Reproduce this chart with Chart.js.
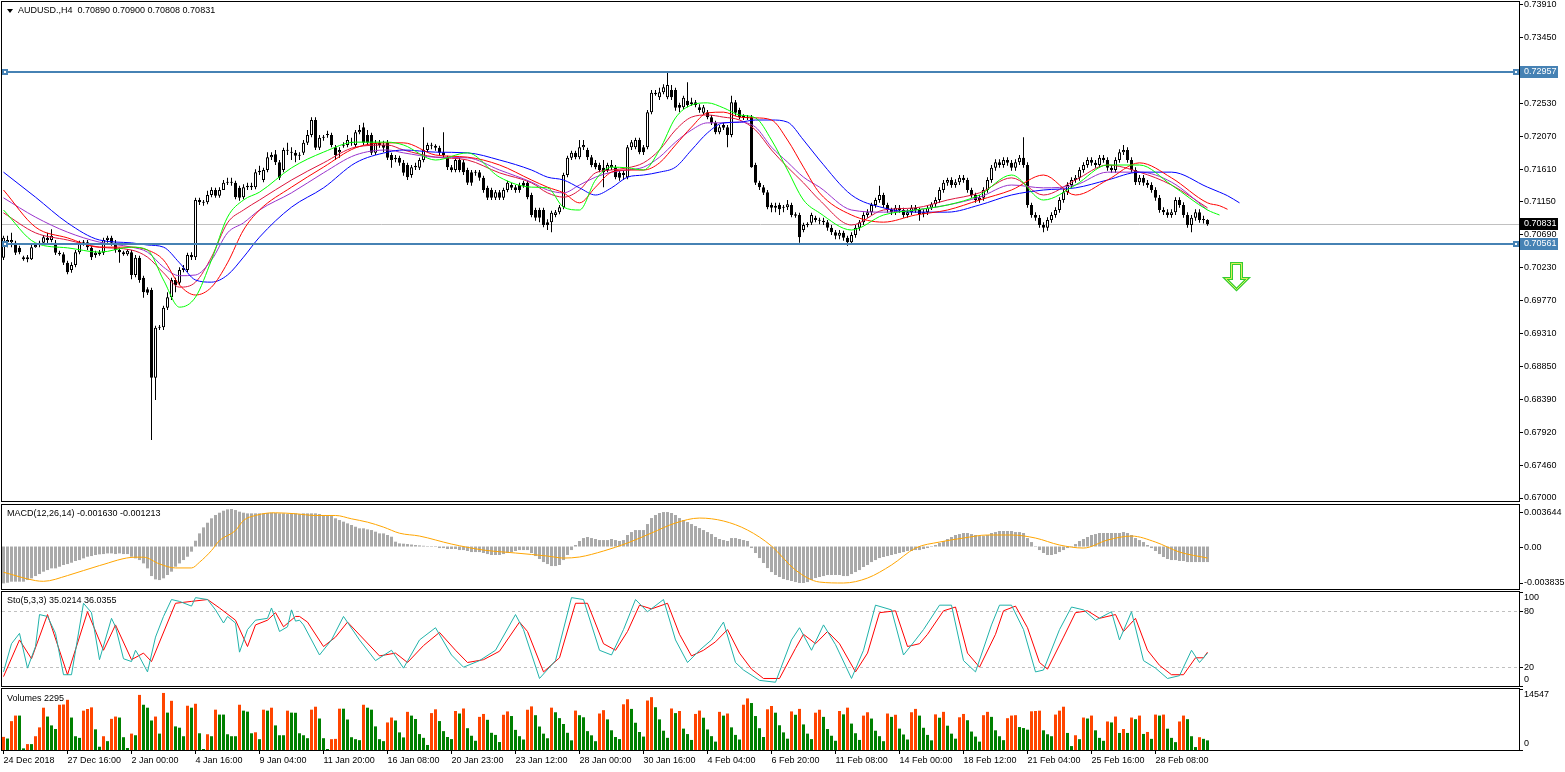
<!DOCTYPE html>
<html>
<head>
<meta charset="utf-8">
<title>AUDUSD., H4</title>
<script src="https://cdn.jsdelivr.net/npm/chart.js@4.4.1/dist/chart.umd.min.js"></script>
<style>
  html, body { margin: 0; padding: 0; background: #fff; }
  body { position: relative; width: 1565px; height: 772px; overflow: hidden; font-family: "Liberation Sans", Arial, sans-serif; }
  canvas { position: absolute; left: 0; }
  .txt { position: absolute; font-size: 9px; line-height: 11px; color: #000; white-space: pre; }
  #tri { position: absolute; left: 7px; top: 9px; width: 0; height: 0; border-left: 3px solid transparent; border-right: 3px solid transparent; border-top: 4px solid #000; }
</style>
</head>
<body>
<canvas id="cMain" width="1565" height="503" style="top:0"></canvas>
<canvas id="cMacd" width="1565" height="88" style="top:503px"></canvas>
<canvas id="cSto" width="1565" height="96" style="top:591px"></canvas>
<canvas id="cVol" width="1565" height="85" style="top:687px"></canvas>
<div id="tri"></div>
<div class="txt" style="left:18px;top:5px">AUDUSD.,H4  0.70890 0.70900 0.70808 0.70831</div>
<div class="txt" style="left:7px;top:508px">MACD(12,26,14) -0.001630 -0.001213</div>
<div class="txt" style="left:7px;top:595px">Sto(5,3,3) 35.0214 36.0355</div>
<div class="txt" style="left:7px;top:693px">Volumes 2295</div>
<script>
// AUDUSD H4 candles, 24 Dec 2018 .. 1 Mar 2019
const open = [0.7036,0.7061,0.7058,0.7057,0.7050,0.7037,0.7034,0.7034,0.7051,0.7054,
0.7057,0.7064,0.7061,0.7057,0.7043,0.7041,0.7029,0.7019,0.7026,0.7044,
0.7057,0.7058,0.7050,0.7040,0.7041,0.7043,0.7061,0.7064,0.7057,0.7047,
0.7044,0.7041,0.7044,0.7012,0.7036,0.7008,0.6992,0.6991,0.6868,0.6938,
0.6939,0.6966,0.6981,0.7005,0.7001,0.7019,0.7019,0.7040,0.7037,0.7117,
0.7114,0.7114,0.7124,0.7131,0.7123,0.7131,0.7141,0.7142,0.7141,0.7134,
0.7121,0.7135,0.7137,0.7135,0.7156,0.7145,0.7159,0.7177,0.7181,0.7170,
0.7159,0.7187,0.7184,0.7183,0.7179,0.7183,0.7197,0.7208,0.7229,0.7190,
0.7204,0.7208,0.7208,0.7191,0.7184,0.7193,0.7194,0.7198,0.7194,0.7212,
0.7219,0.7208,0.7208,0.7183,0.7197,0.7194,0.7197,0.7180,0.7176,0.7176,
0.7169,0.7166,0.7152,0.7163,0.7162,0.7173,0.7187,0.7194,0.7193,0.7190,
0.7184,0.7176,0.7163,0.7159,0.7173,0.7170,0.7159,0.7156,0.7156,0.7156,
0.7148,0.7134,0.7131,0.7120,0.7128,0.7120,0.7131,0.7138,0.7135,0.7138,
0.7141,0.7141,0.7124,0.7103,0.7103,0.7103,0.7086,0.7086,0.7096,0.7100,
0.7107,0.7152,0.7176,0.7183,0.7177,0.7191,0.7187,0.7177,0.7169,0.7166,
0.7162,0.7159,0.7163,0.7163,0.7155,0.7155,0.7149,0.7191,0.7191,0.7201,
0.7191,0.7191,0.7240,0.7267,0.7261,0.7268,0.7261,0.7271,0.7271,0.7250,
0.7247,0.7256,0.7254,0.7254,0.7247,0.7239,0.7240,0.7233,0.7225,0.7212,
0.7222,0.7219,0.7208,0.7254,0.7243,0.7235,0.7233,0.7233,0.7166,0.7141,
0.7135,0.7128,0.7110,0.7109,0.7110,0.7107,0.7107,0.7110,0.7097,0.7096,
0.7075,0.7083,0.7085,0.7092,0.7089,0.7088,0.7086,0.7078,0.7072,0.7067,
0.7071,0.7064,0.7058,0.7068,0.7078,0.7086,0.7096,0.7100,0.7110,0.7117,
0.7124,0.7110,0.7103,0.7100,0.7106,0.7103,0.7096,0.7100,0.7106,0.7103,
0.7097,0.7100,0.7106,0.7111,0.7117,0.7131,0.7141,0.7145,0.7138,0.7142,
0.7148,0.7145,0.7131,0.7124,0.7117,0.7120,0.7131,0.7145,0.7162,0.7170,
0.7166,0.7173,0.7169,0.7162,0.7170,0.7176,0.7166,0.7110,0.7096,0.7092,
0.7082,0.7078,0.7089,0.7096,0.7103,0.7117,0.7128,0.7138,0.7145,0.7148,
0.7159,0.7166,0.7173,0.7169,0.7166,0.7176,0.7173,0.7162,0.7159,0.7173,
0.7184,0.7187,0.7173,0.7159,0.7142,0.7148,0.7141,0.7138,0.7131,0.7120,
0.7103,0.7100,0.7096,0.7100,0.7117,0.7110,0.7096,0.7082,0.7092,0.7100,
0.7089,0.7089];
const high = [0.7067,0.7067,0.7071,0.7060,0.7053,0.7039,0.7040,0.7054,0.7055,0.7060,
0.7068,0.7071,0.7076,0.7061,0.7046,0.7044,0.7032,0.7030,0.7047,0.7060,
0.7061,0.7061,0.7053,0.7046,0.7047,0.7064,0.7067,0.7067,0.7061,0.7050,
0.7046,0.7048,0.7047,0.7040,0.7039,0.7011,0.6995,0.6994,0.6941,0.6942,
0.6969,0.6988,0.7008,0.7008,0.7023,0.7026,0.7043,0.7044,0.7120,0.7120,
0.7117,0.7130,0.7135,0.7134,0.7135,0.7145,0.7148,0.7148,0.7144,0.7137,
0.7139,0.7141,0.7141,0.7160,0.7165,0.7162,0.7184,0.7184,0.7187,0.7173,
0.7190,0.7197,0.7191,0.7187,0.7184,0.7201,0.7215,0.7233,0.7233,0.7208,
0.7208,0.7214,0.7211,0.7194,0.7191,0.7198,0.7208,0.7204,0.7215,0.7222,
0.7225,0.7215,0.7211,0.7201,0.7201,0.7200,0.7201,0.7183,0.7180,0.7179,
0.7173,0.7169,0.7166,0.7169,0.7176,0.7219,0.7197,0.7197,0.7195,0.7193,
0.7212,0.7179,0.7166,0.7176,0.7176,0.7173,0.7162,0.7159,0.7159,0.7159,
0.7151,0.7137,0.7134,0.7131,0.7131,0.7134,0.7144,0.7141,0.7138,0.7141,
0.7144,0.7145,0.7127,0.7106,0.7106,0.7106,0.7090,0.7102,0.7103,0.7110,
0.7155,0.7179,0.7186,0.7186,0.7201,0.7201,0.7190,0.7180,0.7173,0.7169,
0.7173,0.7169,0.7173,0.7166,0.7158,0.7158,0.7194,0.7201,0.7204,0.7204,
0.7194,0.7243,0.7271,0.7271,0.7274,0.7279,0.7295,0.7278,0.7274,0.7253,
0.7263,0.7282,0.7260,0.7257,0.7251,0.7250,0.7243,0.7236,0.7228,0.7222,
0.7225,0.7222,0.7263,0.7257,0.7246,0.7237,0.7236,0.7236,0.7169,0.7144,
0.7138,0.7131,0.7113,0.7113,0.7113,0.7110,0.7117,0.7113,0.7100,0.7099,
0.7085,0.7086,0.7099,0.7095,0.7092,0.7092,0.7089,0.7082,0.7075,0.7075,
0.7074,0.7067,0.7072,0.7082,0.7089,0.7100,0.7104,0.7113,0.7120,0.7137,
0.7127,0.7113,0.7106,0.7110,0.7110,0.7106,0.7104,0.7110,0.7110,0.7106,
0.7104,0.7110,0.7114,0.7121,0.7135,0.7145,0.7148,0.7149,0.7146,0.7152,
0.7152,0.7148,0.7134,0.7127,0.7124,0.7135,0.7149,0.7166,0.7174,0.7174,
0.7177,0.7177,0.7173,0.7174,0.7180,0.7205,0.7170,0.7113,0.7100,0.7096,
0.7086,0.7093,0.7100,0.7107,0.7121,0.7132,0.7142,0.7149,0.7152,0.7163,
0.7170,0.7177,0.7177,0.7173,0.7180,0.7180,0.7177,0.7166,0.7177,0.7188,
0.7194,0.7191,0.7177,0.7163,0.7152,0.7152,0.7145,0.7142,0.7135,0.7124,
0.7107,0.7104,0.7104,0.7121,0.7121,0.7114,0.7100,0.7096,0.7104,0.7104,
0.7095,0.7090];
const low = [0.7033,0.7051,0.7051,0.7040,0.7041,0.7032,0.7030,0.7033,0.7050,0.7051,
0.7055,0.7055,0.7058,0.7040,0.7039,0.7026,0.7013,0.7015,0.7023,0.7041,
0.7053,0.7047,0.7033,0.7036,0.7039,0.7040,0.7057,0.7053,0.7043,0.7029,
0.7039,0.7039,0.7006,0.7009,0.7001,0.6980,0.6984,0.6781,0.6837,0.6935,
0.6935,0.6963,0.6977,0.6988,0.6998,0.7016,0.7016,0.7033,0.7033,0.7110,
0.7109,0.7111,0.7121,0.7120,0.7120,0.7131,0.7138,0.7137,0.7118,0.7116,
0.7118,0.7131,0.7131,0.7132,0.7152,0.7142,0.7156,0.7173,0.7166,0.7145,
0.7156,0.7180,0.7173,0.7170,0.7173,0.7180,0.7194,0.7205,0.7187,0.7187,
0.7200,0.7204,0.7191,0.7173,0.7176,0.7190,0.7191,0.7193,0.7191,0.7209,
0.7194,0.7194,0.7180,0.7180,0.7190,0.7184,0.7173,0.7162,0.7170,0.7165,
0.7151,0.7145,0.7148,0.7159,0.7159,0.7170,0.7184,0.7188,0.7186,0.7180,
0.7176,0.7159,0.7156,0.7156,0.7156,0.7152,0.7138,0.7137,0.7151,0.7144,
0.7127,0.7117,0.7117,0.7117,0.7117,0.7117,0.7128,0.7131,0.7127,0.7127,
0.7134,0.7118,0.7093,0.7088,0.7086,0.7079,0.7075,0.7072,0.7093,0.7097,
0.7104,0.7149,0.7173,0.7174,0.7174,0.7187,0.7173,0.7163,0.7160,0.7156,
0.7135,0.7156,0.7159,0.7146,0.7144,0.7145,0.7146,0.7187,0.7188,0.7181,
0.7180,0.7188,0.7237,0.7263,0.7257,0.7265,0.7258,0.7257,0.7242,0.7240,
0.7244,0.7247,0.7249,0.7247,0.7239,0.7236,0.7230,0.7222,0.7209,0.7209,
0.7215,0.7191,0.7205,0.7235,0.7230,0.7229,0.7229,0.7162,0.7138,0.7131,
0.7124,0.7104,0.7100,0.7100,0.7096,0.7100,0.7103,0.7093,0.7092,0.7057,
0.7072,0.7079,0.7082,0.7086,0.7083,0.7082,0.7074,0.7068,0.7062,0.7062,
0.7060,0.7053,0.7055,0.7064,0.7074,0.7082,0.7092,0.7096,0.7106,0.7113,
0.7106,0.7099,0.7096,0.7096,0.7099,0.7092,0.7092,0.7096,0.7099,0.7088,
0.7093,0.7096,0.7103,0.7107,0.7113,0.7127,0.7137,0.7134,0.7134,0.7138,
0.7141,0.7127,0.7120,0.7113,0.7113,0.7116,0.7127,0.7141,0.7158,0.7162,
0.7162,0.7165,0.7158,0.7158,0.7166,0.7162,0.7106,0.7092,0.7088,0.7078,
0.7072,0.7074,0.7085,0.7092,0.7099,0.7113,0.7124,0.7134,0.7141,0.7144,
0.7155,0.7162,0.7165,0.7162,0.7162,0.7169,0.7158,0.7155,0.7155,0.7169,
0.7180,0.7169,0.7155,0.7138,0.7138,0.7137,0.7134,0.7127,0.7116,0.7099,
0.7096,0.7092,0.7092,0.7096,0.7106,0.7092,0.7078,0.7072,0.7088,0.7085,
0.7084,0.7081];
const close = [0.7064,0.7058,0.7061,0.7043,0.7044,0.7034,0.7037,0.7051,0.7054,0.7057,
0.7065,0.7061,0.7067,0.7043,0.7041,0.7029,0.7016,0.7026,0.7044,0.7057,
0.7058,0.7051,0.7037,0.7043,0.7044,0.7061,0.7064,0.7057,0.7047,0.7044,
0.7041,0.7046,0.7012,0.7036,0.7005,0.6988,0.6987,0.6868,0.6938,0.6939,
0.6966,0.6981,0.7005,0.6998,0.7019,0.7022,0.7040,0.7037,0.7117,0.7114,
0.7113,0.7124,0.7131,0.7123,0.7131,0.7141,0.7142,0.7141,0.7121,0.7120,
0.7135,0.7137,0.7135,0.7156,0.7158,0.7159,0.7177,0.7180,0.7170,0.7148,
0.7187,0.7186,0.7183,0.7179,0.7180,0.7197,0.7208,0.7229,0.7190,0.7204,
0.7205,0.7209,0.7194,0.7180,0.7187,0.7194,0.7201,0.7197,0.7212,0.7215,
0.7197,0.7197,0.7183,0.7197,0.7194,0.7190,0.7176,0.7173,0.7174,0.7169,
0.7155,0.7149,0.7163,0.7165,0.7173,0.7187,0.7194,0.7193,0.7190,0.7183,
0.7180,0.7163,0.7159,0.7173,0.7159,0.7156,0.7141,0.7141,0.7155,0.7148,
0.7131,0.7120,0.7120,0.7128,0.7120,0.7131,0.7141,0.7134,0.7131,0.7131,
0.7137,0.7121,0.7096,0.7092,0.7092,0.7082,0.7082,0.7099,0.7100,0.7107,
0.7152,0.7176,0.7183,0.7177,0.7191,0.7194,0.7177,0.7166,0.7163,0.7159,
0.7156,0.7166,0.7166,0.7149,0.7148,0.7152,0.7191,0.7198,0.7201,0.7184,
0.7184,0.7240,0.7267,0.7265,0.7268,0.7275,0.7278,0.7261,0.7246,0.7246,
0.7260,0.7250,0.7251,0.7250,0.7243,0.7247,0.7233,0.7225,0.7212,0.7219,
0.7218,0.7208,0.7254,0.7239,0.7233,0.7232,0.7232,0.7163,0.7141,0.7135,
0.7127,0.7107,0.7106,0.7106,0.7104,0.7106,0.7111,0.7096,0.7095,0.7065,
0.7082,0.7082,0.7096,0.7089,0.7088,0.7086,0.7078,0.7072,0.7067,0.7071,
0.7064,0.7058,0.7068,0.7078,0.7086,0.7096,0.7100,0.7110,0.7117,0.7124,
0.7110,0.7103,0.7100,0.7106,0.7103,0.7096,0.7100,0.7106,0.7103,0.7097,
0.7100,0.7106,0.7111,0.7117,0.7131,0.7141,0.7145,0.7138,0.7142,0.7148,
0.7145,0.7131,0.7124,0.7117,0.7120,0.7131,0.7145,0.7162,0.7170,0.7166,
0.7173,0.7169,0.7162,0.7170,0.7176,0.7166,0.7110,0.7096,0.7092,0.7082,
0.7078,0.7089,0.7096,0.7103,0.7117,0.7128,0.7138,0.7145,0.7148,0.7159,
0.7166,0.7173,0.7169,0.7166,0.7176,0.7173,0.7162,0.7159,0.7173,0.7184,
0.7187,0.7173,0.7159,0.7142,0.7148,0.7141,0.7138,0.7131,0.7120,0.7103,
0.7100,0.7096,0.7100,0.7117,0.7110,0.7096,0.7082,0.7092,0.7100,0.7089,
0.7089,0.7083];

// moving averages, read at these bar positions (shifted lines run past the last bar)
const maX = [0,8,16,24,32,36,40,44,48,52,56,60,64,72,80,88,96,100,108,116,124,132,136,140,144,148,152,156,160,164,168,172,176,180,184,188,192,196,200,204,212,220,228,236,244,252,260,268,276,284,292,301,304,306,309];
const maGreen = [0.7103,0.7057,0.7050,0.7044,0.7051,0.7047,0.7005,0.6967,0.6981,0.7033,0.7093,0.7117,0.7128,0.7162,0.7184,0.7198,0.7198,0.7194,0.7173,0.7183,0.7149,0.7135,0.7134,0.7107,0.7103,0.7145,0.7163,0.7162,0.7159,0.7187,0.7232,0.7250,0.7253,0.7246,0.7236,0.7232,0.7201,0.7159,0.7117,0.7099,0.7075,0.7096,0.7103,0.7110,0.7124,0.7152,0.7117,0.7138,0.7166,0.7166,0.7138,0.7103,0.7096,null,null];
const maRed = [0.7131,0.7079,0.7064,0.7051,0.7051,0.7047,0.7033,0.6998,0.6984,0.6995,0.7029,0.7075,0.7103,0.7135,0.7163,0.7190,0.7197,0.7197,0.7180,0.7177,0.7166,0.7145,0.7135,0.7127,0.7113,0.7135,0.7156,0.7159,0.7159,0.7169,0.7194,0.7219,0.7239,0.7240,0.7233,0.7232,0.7229,0.7201,0.7163,0.7127,0.7096,0.7086,0.7096,0.7103,0.7117,0.7131,0.7152,0.7124,0.7145,0.7169,0.7148,0.7113,0.7109,0.7104,null];
const maBlue = [0.7156,0.7121,0.7085,0.7061,0.7057,0.7054,0.7051,0.7029,0.7005,0.7002,0.7012,0.7037,0.7065,0.7107,0.7134,0.7169,0.7184,0.7187,0.7184,0.7183,0.7173,0.7159,0.7149,0.7145,0.7134,0.7124,0.7134,0.7149,0.7152,0.7156,0.7163,0.7187,0.7211,0.7225,0.7226,0.7229,0.7229,0.7226,0.7201,0.7173,0.7124,0.7106,0.7100,0.7100,0.7110,0.7124,0.7131,0.7134,0.7145,0.7156,0.7156,0.7135,0.7128,0.7123,0.7113];
const maPurple = [0.7120,0.7093,0.7072,0.7058,0.7051,0.7044,0.7023,0.7011,0.7012,0.7033,0.7071,0.7085,0.7103,0.7127,0.7155,0.7180,0.7187,0.7183,0.7177,0.7176,0.7159,0.7142,0.7131,0.7127,0.7138,0.7149,0.7156,0.7159,0.7163,0.7177,0.7198,0.7215,0.7225,0.7225,0.7226,0.7219,0.7191,0.7170,0.7149,0.7135,0.7103,0.7100,0.7103,0.7110,0.7121,0.7138,0.7134,0.7138,0.7156,0.7156,0.7142,0.7103,null,null,null];
const maCrimson = [0.7099,0.7071,0.7061,0.7051,0.7047,0.7037,0.7015,0.6995,0.7002,0.7037,0.7085,0.7103,0.7117,0.7145,0.7169,0.7191,0.7194,0.7187,0.7177,0.7173,0.7155,0.7141,0.7127,0.7121,0.7131,0.7155,0.7159,0.7162,0.7169,0.7187,0.7215,0.7233,0.7236,0.7233,0.7229,0.7215,0.7187,0.7163,0.7141,0.7117,0.7082,0.7103,0.7106,0.7117,0.7127,0.7148,0.7124,0.7145,0.7166,0.7156,0.7138,0.7106,null,null,null];

const priceTicks = [0.73910,0.73450,0.72990,0.72530,0.72070,0.71610,0.71150,0.70690,0.70230,0.69770,0.69310,0.68850,0.68390,0.67920,0.67460,0.67000];
const levelPrices = [0.72957, 0.70561];
const lastPrice = 0.70831;
const arrowBar = 308, arrowPrice = 0.7029;

// MACD(12,26,14)
const macdHist = [-0.00387,-0.0038,-0.00369,-0.00369,-0.00369,-0.00369,-0.00352,-0.00334,-0.0031,-0.00289,
-0.00264,-0.00247,-0.00229,-0.00229,-0.00212,-0.00194,-0.00184,-0.0017,-0.00152,-0.00142,
-0.00124,-0.00107,-0.001,-0.00089,-0.00082,-0.00079,-0.00072,-0.00072,-0.00079,-0.00072,
-0.00079,-0.00079,-0.00107,-0.00124,-0.00142,-0.00177,-0.00229,-0.0031,-0.00345,-0.00352,
-0.00334,-0.00299,-0.00264,-0.00212,-0.00177,-0.00142,-0.00107,-0.00054,0.00061,0.00138,
0.00201,0.0025,0.00296,0.00331,0.00355,0.00376,0.0039,0.00394,0.00383,0.00366,
0.00355,0.00348,0.00348,0.00348,0.00348,0.00348,0.00352,0.00355,0.00352,0.00348,
0.00348,0.00341,0.00348,0.00348,0.00341,0.00348,0.00348,0.00348,0.00348,0.00341,
0.00331,0.00331,0.0032,0.00296,0.00278,0.00261,0.00243,0.00226,0.00208,0.00191,
0.00191,0.0018,0.00173,0.00156,0.00138,0.00138,0.00121,0.00103,0.00051,0.00033,
0.0003,0.00026,0.00021,0.00016,0.00012,0.00008,0.00005,-0.00005,-0.00005,-0.00016,
-0.00016,-0.00026,-0.00026,-0.00026,-0.00037,-0.00037,-0.00047,-0.00058,-0.00058,-0.00058,
-0.00068,-0.00079,-0.00089,-0.00089,-0.00089,-0.00079,-0.00068,-0.00058,-0.00047,-0.00037,
-0.00037,-0.00037,-0.00068,-0.001,-0.00131,-0.00163,-0.00184,-0.00205,-0.00205,-0.00194,
-0.00142,-0.00089,-0.00037,0.00016,0.00058,0.00089,0.001,0.00089,0.00079,0.00068,
0.00068,0.00068,0.00079,0.00068,0.00058,0.00068,0.00121,0.00152,0.00173,0.00173,
0.00173,0.00236,0.00299,0.00331,0.00352,0.00362,0.00362,0.00352,0.00331,0.00299,
0.00278,0.00257,0.00236,0.00215,0.00194,0.00173,0.00152,0.00131,0.001,0.00079,
0.00068,0.00058,0.00089,0.00089,0.00079,0.00068,0.00058,-0.00016,-0.00068,-0.00121,
-0.00173,-0.00226,-0.00268,-0.00299,-0.0032,-0.00341,-0.00352,-0.00362,-0.00373,-0.00383,
-0.00383,-0.00373,-0.00352,-0.00331,-0.0032,-0.0031,-0.00299,-0.00299,-0.00299,-0.00299,
-0.0031,-0.0031,-0.00289,-0.00268,-0.00247,-0.00215,-0.00194,-0.00163,-0.00142,-0.00121,
-0.0011,-0.001,-0.00089,-0.00079,-0.00068,-0.00058,-0.00047,-0.00047,-0.00037,-0.00037,
-0.00026,-0.00016,-0.00005,0.00016,0.00037,0.00058,0.00079,0.001,0.00121,0.00131,
0.00142,0.00142,0.00131,0.00121,0.0011,0.0011,0.00121,0.00142,0.00152,0.00163,
0.00163,0.00163,0.00163,0.00152,0.00152,0.00142,0.00089,0.00047,0.00005,-0.00037,
-0.00068,-0.00089,-0.00089,-0.00079,-0.00058,-0.00037,-0.00016,0.00005,0.00026,0.00058,
0.00079,0.001,0.00121,0.00131,0.00142,0.00142,0.00142,0.00142,0.00142,0.00142,
0.00152,0.00142,0.00121,0.00089,0.00068,0.00047,0.00016,-0.00016,-0.00047,-0.00079,
-0.0011,-0.00131,-0.00142,-0.00142,-0.00152,-0.00152,-0.00163,-0.00163,-0.00163,-0.00163,
-0.00163,-0.00163];
const sigBar = [0,8,10,16,24,33,35,39,43,47,49,52,54,58,60,63,66,68,73,78,83,87,91,95,99,104,112,120,128,136,140,144,150,156,162,168,174,180,186,192,198,204,210,216,222,228,234,240,246,252,258,264,270,276,282,288,294,301];
const sigVal = [-0.0027,-0.00358,-0.00365,-0.00305,-0.002,-0.00112,-0.00112,-0.00183,-0.00225,-0.00225,-0.00165,-0.00042,0.00063,0.00168,0.00274,0.00326,0.00351,0.00354,0.00344,0.00326,0.00326,0.00291,0.00256,0.00204,0.0014,0.0011,0.00026,-0.00037,-0.00068,-0.001,-0.00121,-0.0011,-0.00047,0.00037,0.00142,0.00247,0.00299,0.00268,0.00173,0.00005,-0.00247,-0.00373,-0.00383,-0.00331,-0.00194,-0.00016,0.00047,0.00089,0.00121,0.00121,0.00089,0.00016,-0.00016,0.00068,0.0011,0.00047,-0.00058,-0.00121];
const macdTicks = [0.003644, 0, -0.003835];
const macdTickText = ['0.003644', '0.00', '-0.003835'];

// Stochastic(5,3,3) turning points
const stoKBar = [0,2,4,6,8,9,11,13,15,17,20,22,24,27,28,30,32,33,34,36,38,40,42,44,47,48,51,53,55,56,58,59,61,63,66,67,69,71,72,73,74,75,79,82,85,89,93,97,100,104,108,112,115,119,123,128,130,134,138,142,145,149,152,155,158,161,165,168,171,174,177,180,183,185,189,193,197,199,202,205,208,212,215,218,222,225,228,230,234,237,240,243,247,249,252,255,258,260,264,267,270,273,277,279,282,285,288,291,294,297,299,301];
const stoKVal = [15,45,56,19,42,76,74,56,12,12,88,78,28,72,63,29,26,38,31,15,52,74,92,90,85,94,92,81,67,74,67,36,60,70,72,83,58,63,81,69,70,65,33,49,74,49,27,38,19,49,62,33,20,27,38,76,60,8,27,94,92,38,33,60,92,79,92,49,25,38,49,68,25,17,6,4,49,62,38,65,44,8,38,86,81,33,49,60,86,86,27,15,65,86,86,60,15,17,60,84,81,70,79,49,79,27,19,8,11,38,25,35];
const stoDBar = [0,4,7,11,16,21,25,28,32,35,37,43,47,51,54,58,61,63,66,68,70,73,74,76,80,83,86,90,94,98,101,105,109,113,116,120,124,129,131,135,139,143,146,150,153,156,159,162,166,169,172,175,178,181,184,187,190,194,198,200,203,206,209,213,216,219,223,226,229,231,235,238,241,244,248,250,253,256,259,261,265,268,271,274,278,280,283,286,289,292,295,298,300,301];
const stoDVal = [10,49,29,76,12,79,38,65,28,35,26,88,90,92,83,70,42,65,70,78,63,74,74,68,42,52,68,50,32,35,25,43,57,38,25,28,37,68,58,15,30,88,88,45,38,58,86,82,88,55,32,38,47,60,35,18,8,8,40,55,45,58,45,15,35,78,80,42,45,55,80,84,35,20,55,80,85,62,25,18,52,78,80,72,76,58,72,38,22,12,12,30,30,36];
const stoLevels = [80, 20];
const stoTicks = [100, 80, 20, 0];

// tick volumes
const volume = [3128,2737,6882,8211,8211,391,1408,1408,3284,5396,
10088,7976,5865,5005,10792,10850,11965,7742,3284,2893,
9384,9775,10166,4927,782,3284,2111,7429,7976,7742,
3050,469,3910,3519,13138,10792,10088,7038,7976,3910,
13607,8915,11730,5630,5318,3284,10557,10088,11026,3988,
235,3754,3284,9619,8446,8446,3754,3284,3284,10792,
9384,9149,3988,4223,2581,9619,9384,10088,5865,3519,
3519,9384,8915,8880,3988,3519,2815,9619,10322,7507,
2815,235,2581,2650,9853,9853,7273,3050,2581,2346,
10792,10088,9619,5630,2581,2111,6569,7742,7038,4200,
3000,9100,8200,7400,3800,2900,1200,8800,9700,6900,
4500,3100,2600,9300,8700,9900,5200,3400,2200,7900,
8600,7200,4100,3600,1900,8400,9200,8100,4800,3300,
2500,9600,10400,8300,5600,3900,2800,10100,9000,7600,
6200,4100,2300,9400,8300,7800,4500,3500,2100,8700,
9500,7300,4700,3100,2600,10900,12100,9800,6500,4300,
3200,11800,12600,10200,7300,4600,2900,9900,8800,9300,
5100,3800,2400,8600,9400,7700,4900,3300,2000,9100,
8200,8700,5400,3600,2500,10800,12300,11200,8100,5200,
3100,9700,10500,8900,5900,4200,2700,9200,8400,9800,
6100,3900,2600,8900,9600,7900,5000,3400,2200,9300,
8500,10100,6300,4000,2400,8200,9000,7500,4600,3300,
2100,8700,7900,8400,5100,3700,2500,9000,9800,8200,
5300,3600,2300,8500,7700,9100,5800,3900,2700,7800,
8600,7100,4400,3200,2000,8300,9100,7900,4700,3284,
2346,7585,8211,8300,5474,5239,4848,9228,9300,9384,
4692,3754,3284,8446,9384,10322,4066,938,3519,2581,
7742,7507,8211,4692,2893,2190,6803,6569,7976,4066,
5005,4066,7742,7351,8211,3832,4301,2659,8446,8211,
8446,5083,2893,1877,6803,8211,7351,3284,704,3050,
2659,2295];
const volTicks = [14547, 0];

const xLabels = ['24 Dec 2018','27 Dec 16:00','2 Jan 00:00','4 Jan 16:00','9 Jan 04:00','11 Jan 20:00','16 Jan 08:00','20 Jan 23:00','23 Jan 12:00','28 Jan 00:00','30 Jan 16:00','4 Feb 04:00','6 Feb 20:00','11 Feb 08:00','14 Feb 00:00','18 Feb 12:00','21 Feb 04:00','25 Feb 16:00','28 Feb 08:00'];
const xLabelBars = xLabels.map((_, i) => i * 16);

const FONT = '9px "Liberation Sans", Arial, sans-serif';
const X_MIN = -0.375;
const X_MAX = X_MIN + 1517 / 4;
const bars = close.map((_, i) => i);
const xHidden = { type: 'linear', min: X_MIN, max: X_MAX, offset: false, display: false, grid: { offset: false } };
const baseOpts = {
    responsive: false,
    animation: false,
    devicePixelRatio: 1,
    events: [],
    plugins: { legend: { display: false }, tooltip: { enabled: false } }
};

function pts(xs, ys) {
    return xs.map((x, i) => ({ x: x, y: ys[i] })).filter(p => p.y !== null && p.y !== undefined);
}

function maLine(xs, ys, color) {
    return { type: 'line', data: pts(xs, ys), borderColor: color, borderWidth: 1, pointRadius: 0,
        cubicInterpolationMode: 'monotone', order: 0 };
}

// border around a pane + right-hand price labels
function paneFrame(vals, texts, edge) {
    return {
        id: 'paneFrame',
        afterDraw(chart) {
            const { ctx, chartArea: a } = chart;
            const y = chart.scales.y;
            ctx.save();
            ctx.strokeStyle = '#000';
            ctx.lineWidth = 1;
            ctx.strokeRect(a.left - 0.5, a.top - 0.5, a.right - a.left + 1, a.bottom - a.top + 1);
            ctx.font = FONT;
            ctx.fillStyle = '#000';
            ctx.textBaseline = 'middle';
            ctx.textAlign = 'left';
            vals.forEach((v, i) => {
                const py = Math.round(y.getPixelForValue(v)) + 0.5;
                ctx.beginPath();
                ctx.moveTo(a.right, py);
                ctx.lineTo(a.right + 4, py);
                ctx.stroke();
                const ty = Math.max(a.top + edge, Math.min(a.bottom - edge, py));
                ctx.fillText(texts[i], a.right + 5, ty);
            });
            ctx.restore();
        }
    };
}

const mainDecor = {
    id: 'mainDecor',
    beforeDatasetsDraw(chart) {
        const { ctx, chartArea: a, scales: { y } } = chart;
        const py = Math.round(y.getPixelForValue(lastPrice)) + 0.5;
        ctx.save();
        ctx.strokeStyle = '#c0c0c0';
        ctx.lineWidth = 1;
        ctx.beginPath();
        ctx.moveTo(a.left, py);
        ctx.lineTo(a.right, py);
        ctx.stroke();
        ctx.restore();
    },
    afterDatasetsDraw(chart) {
        const { ctx, chartArea: a, scales: { x, y } } = chart;
        ctx.save();
        levelPrices.forEach(lv => {
            const py = Math.round(y.getPixelForValue(lv));
            ctx.fillStyle = '#4682b4';
            ctx.fillRect(a.left, py - 1, a.right - a.left, 2);
            [a.left + 3, a.right - 3].forEach(hx => {
                ctx.fillStyle = '#4682b4';
                ctx.fillRect(hx - 3, py - 3, 6, 6);
                ctx.fillStyle = '#fff';
                ctx.fillRect(hx - 1, py - 1, 2, 2);
            });
        });
        // sell arrow
        const ax = Math.round(x.getPixelForValue(arrowBar)) + 0.5;
        const ay = Math.round(y.getPixelForValue(arrowPrice)) + 0.5;
        ctx.beginPath();
        ctx.moveTo(ax - 5, ay);
        ctx.lineTo(ax + 5, ay);
        ctx.lineTo(ax + 5, ay + 15);
        ctx.lineTo(ax + 11, ay + 15);
        ctx.lineTo(ax, ay + 26);
        ctx.lineTo(ax - 11, ay + 15);
        ctx.lineTo(ax - 5, ay + 15);
        ctx.closePath();
        ctx.lineWidth = 3;
        ctx.strokeStyle = '#32cd32';
        ctx.stroke();
        ctx.lineWidth = 1;
        ctx.strokeStyle = '#dcf05a';
        ctx.stroke();
        ctx.restore();
    },
    afterDraw(chart) {
        const { ctx, chartArea: a, scales: { y } } = chart;
        ctx.save();
        ctx.font = FONT;
        ctx.textBaseline = 'middle';
        ctx.textAlign = 'left';
        [[levelPrices[0], '#4682b4'], [lastPrice, '#000000'], [levelPrices[1], '#4682b4']].forEach(([v, col]) => {
            const py = Math.round(y.getPixelForValue(v));
            ctx.fillStyle = col;
            ctx.fillRect(a.right + 1, py - 6, 38, 12);
            ctx.fillStyle = '#fff';
            ctx.fillText(v.toFixed(5), a.right + 5, py);
        });
        ctx.restore();
    }
};

new Chart(document.getElementById('cMain'), {
    type: 'bar',
    data: {
        datasets: [
            maLine(maX, maGreen, '#00ff00'),
            maLine(maX, maRed, '#ff0000'),
            maLine(maX, maBlue, '#0000ff'),
            maLine(maX, maPurple, '#9932cc'),
            maLine(maX, maCrimson, '#dc143c'),
            {
                data: bars.map(i => ({ x: i, y: [open[i], close[i]] })),
                backgroundColor: bars.map(i => close[i] >= open[i] ? '#ffffff' : '#000000'),
                borderColor: '#000', borderWidth: 1, borderSkipped: false,
                barThickness: 3, minBarLength: 1, grouped: false, inflateAmount: 0, order: 1
            },
            {
                data: bars.map(i => ({ x: i, y: [low[i], high[i]] })),
                backgroundColor: '#000', barThickness: 1, grouped: false, inflateAmount: 0, order: 2
            }
        ]
    },
    options: Object.assign({}, baseOpts, {
        layout: { padding: { left: 2, right: 46, top: 2, bottom: 2 } },
        scales: { x: xHidden, y: { type: 'linear', min: 0.66956, max: 0.73942, display: false } }
    }),
    plugins: [paneFrame(priceTicks, priceTicks.map(v => v.toFixed(5)), 3), mainDecor]
});

new Chart(document.getElementById('cMacd'), {
    type: 'bar',
    data: {
        datasets: [
            { type: 'line', data: pts(sigBar, sigVal), borderColor: '#ffa500', borderWidth: 1, pointRadius: 0,
              cubicInterpolationMode: 'monotone', order: 0 },
            { data: bars.map(i => ({ x: i, y: macdHist[i] })), backgroundColor: '#a9a9a9',
              barThickness: 3, grouped: false, inflateAmount: 0, order: 1 }
        ]
    },
    options: Object.assign({}, baseOpts, {
        layout: { padding: { left: 2, right: 46, top: 2, bottom: 2 } },
        scales: { x: xHidden, y: { type: 'linear', min: -0.00446, max: 0.00436, display: false } }
    }),
    plugins: [paneFrame(macdTicks, macdTickText, 6)]
});

new Chart(document.getElementById('cSto'), {
    type: 'line',
    data: {
        datasets: [
            { data: pts(stoKBar, stoKVal), borderColor: '#20b2aa', borderWidth: 1, pointRadius: 0, tension: 0 },
            { data: pts(stoDBar, stoDVal), borderColor: '#ff0000', borderWidth: 1, pointRadius: 0, tension: 0 }
        ]
    },
    options: Object.assign({}, baseOpts, {
        layout: { padding: { left: 2, right: 46, top: 1, bottom: 1 } },
        scales: { x: xHidden, y: { type: 'linear', min: 0, max: 100, display: false } }
    }),
    plugins: [{
        id: 'stoLevels',
        beforeDatasetsDraw(chart) {
            const { ctx, chartArea: a, scales: { y } } = chart;
            ctx.save();
            ctx.strokeStyle = '#c0c0c0';
            ctx.lineWidth = 1;
            ctx.setLineDash([3, 3]);
            stoLevels.forEach(v => {
                const py = Math.round(y.getPixelForValue(v)) + 0.5;
                ctx.beginPath();
                ctx.moveTo(a.left, py);
                ctx.lineTo(a.right, py);
                ctx.stroke();
            });
            ctx.restore();
        }
    }, paneFrame(stoTicks, stoTicks.map(String), 6)]
});

new Chart(document.getElementById('cVol'), {
    type: 'bar',
    data: {
        datasets: [{
            data: volume.map((v, i) => ({ x: i, y: v })),
            // rising volume red, falling green (as in the terminal)
            backgroundColor: volume.map((v, i) => (i === 0 || v > volume[i - 1]) ? '#ff4500' : '#008000'),
            barThickness: 3, grouped: false, inflateAmount: 0
        }]
    },
    options: Object.assign({}, baseOpts, {
        layout: { padding: { left: 2, right: 46, top: 2, bottom: 0 } },
        scales: {
            x: {
                type: 'linear', min: X_MIN, max: X_MAX, position: 'bottom', offset: false,
                afterBuildTicks: s => { s.ticks = xLabelBars.map(v => ({ value: v })); },
                afterFit: s => { s.height = 22; },
                grid: { display: true, offset: false, drawOnChartArea: false, drawTicks: true, tickLength: 4, color: '#000' },
                border: { display: false },
                ticks: {
                    autoSkip: false, maxRotation: 0, minRotation: 0, align: 'start', padding: 1,
                    color: '#000', font: { family: '"Liberation Sans", Arial, sans-serif', size: 9 },
                    callback: (v, i) => xLabels[i]
                }
            },
            y: { type: 'linear', min: 0, max: 14547, display: false }
        }
    }),
    plugins: [paneFrame(volTicks, volTicks.map(String), 6)]
});
</script>
</body>
</html>
